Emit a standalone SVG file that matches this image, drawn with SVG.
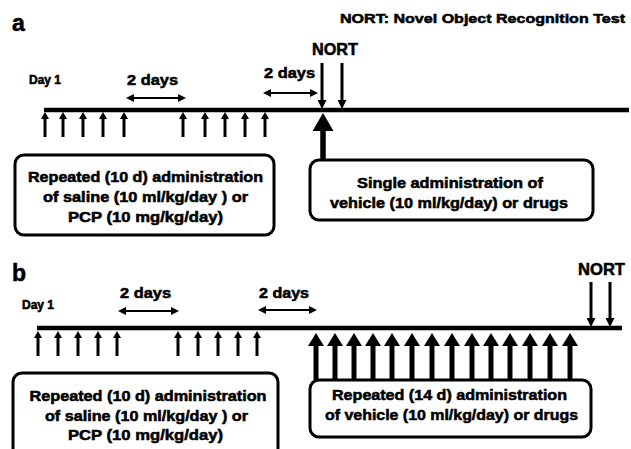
<svg xmlns="http://www.w3.org/2000/svg" width="631" height="449" viewBox="0 0 631 449">
<style>
text{font-family:"Liberation Sans",Arial,sans-serif;font-weight:bold;fill:#000;stroke:#000;stroke-width:0.55}
.panel{font-size:23px}
.day{font-size:12px}
.days{font-size:15px}
.nort{font-size:17px}
.title{font-size:13.5px}
.box{fill:#fff;stroke:#000;stroke-width:3}
.bt{font-size:15px;text-anchor:middle}
.tl{stroke:#000;stroke-width:4.5;fill:none}
.sa{stroke:#000;stroke-width:3;marker-end:url(#hs)}
.ba{stroke:#000;stroke-width:5.5;marker-end:url(#hb)}
.ma{stroke:#000;stroke-width:5;marker-end:url(#hm)}
.da{stroke:#000;stroke-width:3;marker-end:url(#hd)}
.dd{stroke:#000;stroke-width:2;marker-start:url(#hx);marker-end:url(#hx)}
</style>
<defs>
<marker id="hs" markerUnits="userSpaceOnUse" viewBox="0 0 7 8" markerWidth="7" markerHeight="8" refX="3" refY="4" orient="auto"><path d="M0,0 L7,4 L0,8 z" fill="#000"/></marker>
<marker id="hb" markerUnits="userSpaceOnUse" viewBox="0 0 18 21" markerWidth="18" markerHeight="21" refX="4" refY="10.5" orient="auto"><path d="M0,0 L18,10.5 L0,21 z" fill="#000"/></marker>
<marker id="hm" markerUnits="userSpaceOnUse" viewBox="0 0 13 16" markerWidth="13" markerHeight="16" refX="4" refY="8" orient="auto"><path d="M0,0 L13,8 L0,16 z" fill="#000"/></marker>
<marker id="hd" markerUnits="userSpaceOnUse" viewBox="0 0 9 9" markerWidth="9" markerHeight="9" refX="4" refY="4.5" orient="auto"><path d="M0,0 L9,4.5 L0,9 z" fill="#000"/></marker>
<marker id="hx" markerUnits="userSpaceOnUse" viewBox="0 0 8 8" markerWidth="8" markerHeight="8" refX="4" refY="4" orient="auto-start-reverse"><path d="M0,0 L8,4 L0,8 z" fill="#000"/></marker>
</defs>
<rect width="631" height="449" fill="#fff"/>

<!-- Panel a -->
<g id="label-a"><text class="panel" x="12" y="31">a</text></g>
<g id="title"><text class="title" x="340" y="23" textLength="285" lengthAdjust="spacingAndGlyphs">NORT: Novel Object Recognition Test</text></g>
<g id="a-day1"><text class="day" x="29" y="84">Day 1</text></g>
<g id="a-2days-1"><text class="days" x="127" y="85" textLength="51" lengthAdjust="spacingAndGlyphs">2 days</text></g>
<g id="a-2days-2"><text class="days" x="264" y="78" textLength="51" lengthAdjust="spacingAndGlyphs">2 days</text></g>
<g id="a-nort"><text class="nort" x="312" y="55" textLength="46" lengthAdjust="spacingAndGlyphs">NORT</text></g>
<g id="a-box-left">
<rect class="box" x="15" y="155" width="259" height="80" rx="9"/>
<text class="bt" x="145.5" y="182" textLength="235" lengthAdjust="spacingAndGlyphs">Repeated (10 d) administration</text>
<text class="bt" x="145.5" y="202" textLength="205" lengthAdjust="spacingAndGlyphs">of saline (10 ml/kg/day ) or</text>
<text class="bt" x="145.5" y="222" textLength="155" lengthAdjust="spacingAndGlyphs">PCP (10 mg/kg/day)</text>
</g>
<g id="a-box-right">
<rect class="box" x="310" y="160" width="283" height="60" rx="9"/>
<text class="bt" x="450" y="188" textLength="186" lengthAdjust="spacingAndGlyphs">Single administration of</text>
<text class="bt" x="449" y="208" textLength="238" lengthAdjust="spacingAndGlyphs">vehicle (10 ml/kg/day) or drugs</text>
</g>

<!-- Panel b -->
<g id="label-b"><text class="panel" x="12" y="281">b</text></g>
<g id="b-day1"><text class="day" x="22" y="309">Day 1</text></g>
<g id="b-2days-1"><text class="days" x="120" y="298" textLength="51" lengthAdjust="spacingAndGlyphs">2 days</text></g>
<g id="b-2days-2"><text class="days" x="259" y="298" textLength="50" lengthAdjust="spacingAndGlyphs">2 days</text></g>
<g id="b-nort"><text class="nort" x="578" y="275" textLength="47" lengthAdjust="spacingAndGlyphs">NORT</text></g>
<g id="b-box-left">
<rect class="box" x="13" y="373" width="265" height="84" rx="9"/>
<text class="bt" x="148" y="401" textLength="237" lengthAdjust="spacingAndGlyphs">Repeated (10 d) administration</text>
<text class="bt" x="146.5" y="421" textLength="203" lengthAdjust="spacingAndGlyphs">of saline (10 ml/kg/day ) or</text>
<text class="bt" x="145.5" y="440" textLength="155" lengthAdjust="spacingAndGlyphs">PCP (10 mg/kg/day)</text>
</g>
<g id="b-box-right">
<rect class="box" x="310" y="380" width="281" height="57" rx="9"/>
<text class="bt" x="449.5" y="400" textLength="235" lengthAdjust="spacingAndGlyphs">Repeated (14 d) administration</text>
<text class="bt" x="451.5" y="420" textLength="253" lengthAdjust="spacingAndGlyphs">of vehicle (10 ml/kg/day) or drugs</text>
</g>

<g id="connectors">
<!-- timelines -->
<line class="tl" x1="44" y1="110" x2="629" y2="110"/>
<line class="tl" x1="37" y1="328" x2="622" y2="328"/>
<!-- 2 days arrows -->
<line class="dd" x1="130" y1="98" x2="182" y2="98"/>
<line class="dd" x1="267" y1="93" x2="314" y2="93"/>
<line class="dd" x1="122" y1="311" x2="175" y2="311"/>
<line class="dd" x1="262" y1="310" x2="313" y2="310"/>
<!-- small up arrows a -->
<line class="sa" x1="45" y1="137" x2="45" y2="116"/>
<line class="sa" x1="63" y1="137" x2="63" y2="116"/>
<line class="sa" x1="83" y1="137" x2="83" y2="116"/>
<line class="sa" x1="103" y1="137" x2="103" y2="116"/>
<line class="sa" x1="124" y1="137" x2="124" y2="116"/>
<line class="sa" x1="183" y1="137" x2="183" y2="116"/>
<line class="sa" x1="205" y1="137" x2="205" y2="116"/>
<line class="sa" x1="225" y1="137" x2="225" y2="116"/>
<line class="sa" x1="245" y1="137" x2="245" y2="116"/>
<line class="sa" x1="265" y1="137" x2="265" y2="116"/>
<!-- NORT down arrows a -->
<line class="da" x1="322" y1="63" x2="322" y2="104"/>
<line class="da" x1="342" y1="63" x2="342" y2="104"/>
<!-- single big up arrow a -->
<line class="ba" x1="323" y1="160" x2="323" y2="127"/>
<!-- small up arrows b -->
<line class="sa" x1="38" y1="356" x2="38" y2="335"/>
<line class="sa" x1="58" y1="356" x2="58" y2="335"/>
<line class="sa" x1="78" y1="356" x2="78" y2="335"/>
<line class="sa" x1="98" y1="356" x2="98" y2="335"/>
<line class="sa" x1="117" y1="356" x2="117" y2="335"/>
<line class="sa" x1="178" y1="356" x2="178" y2="335"/>
<line class="sa" x1="198" y1="356" x2="198" y2="335"/>
<line class="sa" x1="218" y1="356" x2="218" y2="335"/>
<line class="sa" x1="238" y1="356" x2="238" y2="335"/>
<line class="sa" x1="257" y1="356" x2="257" y2="335"/>
<!-- repeated big up arrows b -->
<line class="ma" x1="316" y1="380" x2="316" y2="342"/>
<line class="ma" x1="335" y1="380" x2="335" y2="342"/>
<line class="ma" x1="354" y1="380" x2="354" y2="342"/>
<line class="ma" x1="373" y1="380" x2="373" y2="342"/>
<line class="ma" x1="392" y1="380" x2="392" y2="342"/>
<line class="ma" x1="412" y1="380" x2="412" y2="342"/>
<line class="ma" x1="432" y1="380" x2="432" y2="342"/>
<line class="ma" x1="452" y1="380" x2="452" y2="342"/>
<line class="ma" x1="472" y1="380" x2="472" y2="342"/>
<line class="ma" x1="491" y1="380" x2="491" y2="342"/>
<line class="ma" x1="510" y1="380" x2="510" y2="342"/>
<line class="ma" x1="530" y1="380" x2="530" y2="342"/>
<line class="ma" x1="550" y1="380" x2="550" y2="342"/>
<line class="ma" x1="570" y1="380" x2="570" y2="342"/>
<!-- NORT down arrows b -->
<line class="da" x1="591" y1="282" x2="591" y2="322"/>
<line class="da" x1="610" y1="282" x2="610" y2="322"/>
</g>
</svg>
